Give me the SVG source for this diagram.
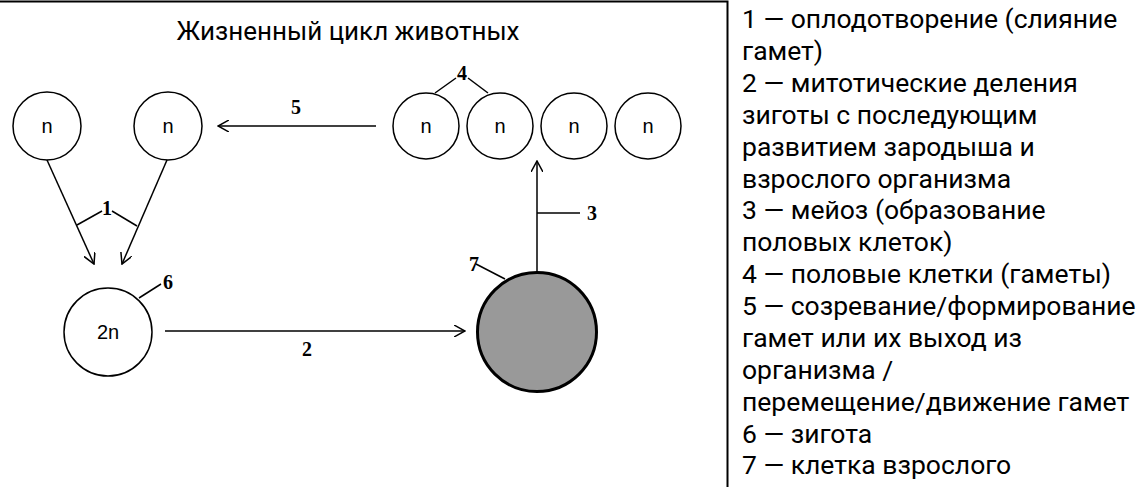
<svg xmlns="http://www.w3.org/2000/svg" width="1137" height="487" viewBox="0 0 1137 487">
<style>
.cell{fill:#fff;stroke:#000;stroke-width:1.5}
.n{font-family:"Liberation Sans",Arial,sans-serif;font-size:20px;fill:#000;text-anchor:middle;dominant-baseline:central}
.lbl{font-family:"Liberation Serif","Times New Roman",serif;font-weight:bold;font-size:20px;fill:#000;text-anchor:middle;dominant-baseline:central}
.ln{stroke:#000;stroke-width:1.5;fill:none}
.leg{font-family:Roboto,"Noto Sans",sans-serif;font-size:26.5px;fill:#000}
</style>
<defs>
<marker id="ah" viewBox="0 0 12 12" refX="11" refY="6" markerWidth="12" markerHeight="12" markerUnits="userSpaceOnUse" orient="auto">
<path d="M0,0 L11,6 L0,12" fill="none" stroke="#000" stroke-width="1.5"/>
</marker>
</defs>
<rect width="1137" height="487" fill="#fff"/>
<path d="M0,1.5 H727.5 V487" fill="none" stroke="#000" stroke-width="2"/>
<text x="348" y="40" font-family="Roboto,'Liberation Sans',sans-serif" font-size="25" text-anchor="middle" textLength="343" lengthAdjust="spacingAndGlyphs">Жизненный цикл животных</text>

<g id="gamete-left-1"><circle class="cell" cx="47" cy="126" r="34"/><text class="n" x="47" y="126">n</text></g>
<g id="gamete-left-2"><circle class="cell" cx="168" cy="126" r="34"/><text class="n" x="168" y="126">n</text></g>
<g id="gamete-1"><circle class="cell" cx="426" cy="126" r="33"/><text class="n" x="426" y="126">n</text></g>
<g id="gamete-2"><circle class="cell" cx="500" cy="126" r="33"/><text class="n" x="500" y="126">n</text></g>
<g id="gamete-3"><circle class="cell" cx="574" cy="126" r="33"/><text class="n" x="574" y="126">n</text></g>
<g id="gamete-4"><circle class="cell" cx="648" cy="126" r="33"/><text class="n" x="648" y="126">n</text></g>
<g id="zygote"><circle class="cell" cx="108" cy="332" r="44"/><text class="n" x="108" y="332">2n</text></g>
<g id="adult-cell"><circle cx="537" cy="332" r="59.5" fill="#999" stroke="#000" stroke-width="3"/></g>

<g id="connectors">
<line class="ln" x1="376" y1="126" x2="218" y2="126" marker-end="url(#ah)"/>
<line class="ln" x1="47" y1="160" x2="94" y2="264" marker-end="url(#ah)"/>
<line class="ln" x1="167" y1="160" x2="122" y2="264" marker-end="url(#ah)"/>
<line class="ln" x1="165" y1="331" x2="465" y2="331" marker-end="url(#ah)"/>
<line class="ln" x1="537" y1="272" x2="537" y2="161" marker-end="url(#ah)"/>
<polyline class="ln" points="77,225 102,211"/>
<polyline class="ln" points="112,211 137,226"/>
<polyline class="ln" points="537,213 580,213"/>
<polyline class="ln" points="435,93 456,78"/>
<polyline class="ln" points="468,78 488,93"/>
<polyline class="ln" points="139,298 161,284"/>
<polyline class="ln" points="476,264 505,279"/>
</g>

<g id="labels">
<text class="lbl" x="107" y="208">1</text>
<text class="lbl" x="307" y="349">2</text>
<text class="lbl" x="592" y="213">3</text>
<text class="lbl" x="462" y="73">4</text>
<text class="lbl" x="296" y="107">5</text>
<text class="lbl" x="168" y="282">6</text>
<text class="lbl" x="474" y="264">7</text>
</g>

<g id="legend" class="leg">
<text x="742" y="28">1 — оплодотворение (слияние</text>
<text x="742" y="60">гамет)</text>
<text x="742" y="92">2 — митотические деления</text>
<text x="742" y="124">зиготы с последующим</text>
<text x="742" y="156">развитием зародыша и</text>
<text x="742" y="188">взрослого организма</text>
<text x="742" y="219">3 — мейоз (образование</text>
<text x="742" y="251">половых клеток)</text>
<text x="742" y="283">4 — половые клетки (гаметы)</text>
<text x="742" y="315">5 — созревание/формирование</text>
<text x="742" y="347">гамет или их выход из</text>
<text x="742" y="379">организма /</text>
<text x="742" y="411">перемещение/движение гамет</text>
<text x="742" y="443">6 — зигота</text>
<text x="742" y="474">7 — клетка взрослого</text>
</g>
</svg>
